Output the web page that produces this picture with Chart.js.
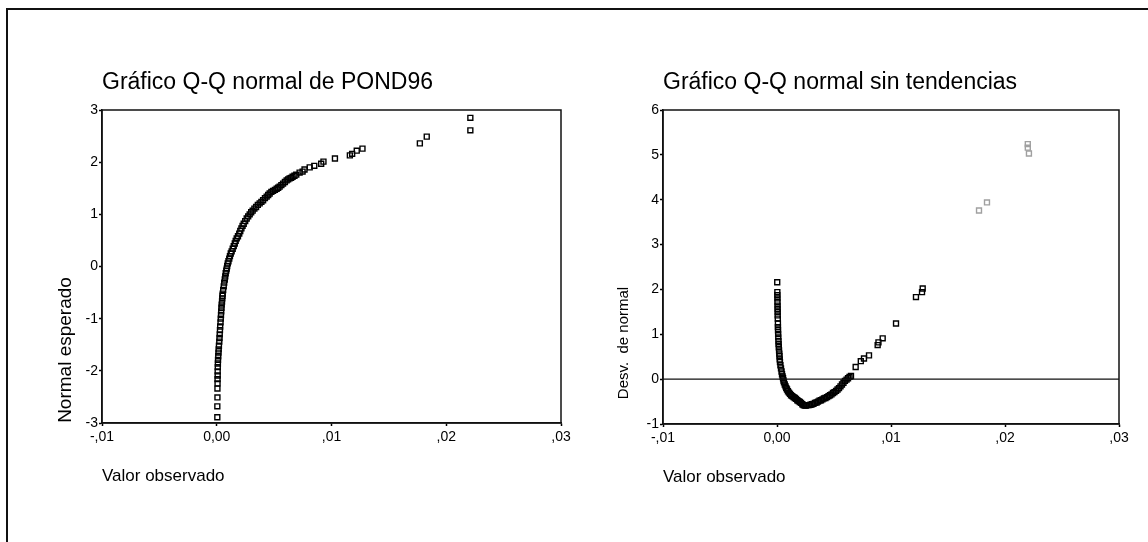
<!DOCTYPE html>
<html>
<head>
<meta charset="utf-8">
<script src="https://cdn.jsdelivr.net/npm/chart.js@4.4.1/dist/chart.umd.min.js"></script>
<style>
	body { margin: 0; background: #fff; width: 1148px; height: 542px; overflow: hidden; position: relative }
	#frame { position: absolute; left: 6px; top: 8px; right: 0; bottom: 0; border-top: 2px solid #111; border-left: 2px solid #111 }
	#left { position: absolute; left: 0; top: 0 }
	#right { position: absolute; left: 580px; top: 0 }
</style>
</head>
<body>
<div id="frame"></div>
<canvas id="left" width="580" height="542"></canvas>
<canvas id="right" width="568" height="542"></canvas>
<script>
const leftX = [
	0.00005, 0.00005, 0.00006, 0.00006, 0.00007, 0.00007, 0.00008, 0.00008, 0.00009,
	0.0001, 0.00011, 0.00013, 0.00015, 0.00017, 0.00019, 0.00022, 0.00024, 0.00026, 0.00028,
	0.0003, 0.00033, 0.00035, 0.00037, 0.00039, 0.00041, 0.00043, 0.00046, 0.00048, 0.0005,
	0.00052, 0.00056, 0.00061, 0.00065, 0.0007, 0.00074, 0.00078, 0.00083, 0.00087, 0.00091,
	0.00096, 0.00102, 0.00109, 0.00115, 0.00122, 0.0013, 0.00139, 0.00148, 0.00157, 0.00165,
	0.00174, 0.00185, 0.00196, 0.00205, 0.00215, 0.00225, 0.00235, 0.00248, 0.00261, 0.00274,
	0.00287, 0.003, 0.00313, 0.00328, 0.00343, 0.00358, 0.00374, 0.00389, 0.00404, 0.0042,
	0.00435, 0.00448, 0.00461, 0.00476, 0.00491, 0.00507, 0.00522, 0.00535, 0.00548, 0.00563,
	0.00578, 0.00594, 0.00609, 0.00622, 0.00635, 0.00648, 0.00661, 0.00677, 0.00693, 0.00722,
	0.00748, 0.00765, 0.0081, 0.0085, 0.0091, 0.0093, 0.0103, 0.0116, 0.0118, 0.0122, 0.0127,
	0.0177, 0.0183, 0.0221, 0.0221
]
const leftY = [
	-2.89, -2.68, -2.51, -2.34, -2.24, -2.16, -2.09, -2.01, -1.93,
	-1.86, -1.79, -1.72, -1.65, -1.59, -1.52, -1.44, -1.37, -1.30, -1.22,
	-1.15, -1.07, -1.0, -0.93, -0.86, -0.79, -0.73, -0.67, -0.61, -0.56,
	-0.52, -0.45, -0.38, -0.31, -0.25, -0.19, -0.13, -0.08, -0.04, 0.01,
	0.06, 0.1, 0.15, 0.2, 0.25, 0.29, 0.34, 0.39, 0.44, 0.49,
	0.54, 0.58, 0.63, 0.68, 0.73, 0.78, 0.82, 0.87, 0.92, 0.96,
	1.0, 1.04, 1.07, 1.11, 1.14, 1.18, 1.21, 1.24, 1.27, 1.31,
	1.34, 1.37, 1.40, 1.43, 1.45, 1.47, 1.49, 1.51, 1.53, 1.56,
	1.59, 1.62, 1.65, 1.67, 1.69, 1.7, 1.72, 1.74, 1.76, 1.80,
	1.82, 1.86, 1.9, 1.93, 1.97, 2.01, 2.07, 2.13, 2.16, 2.22, 2.26,
	2.36, 2.49, 2.61, 2.85
]

const rightX = [
	0.00002, 0.00003, 0.00003, 0.00004, 0.00004, 0.00005, 0.00005, 0.00006, 0.00006, 0.00007, 0.00008, 0.00008,
	0.00009, 0.0001, 0.00011, 0.00013, 0.00014, 0.00016, 0.00018, 0.0002, 0.00022, 0.00024,
	0.00026, 0.0003, 0.00035, 0.0004, 0.00044, 0.00049, 0.00053, 0.00057, 0.00061, 0.00068,
	0.00075, 0.00081, 0.00088, 0.00096, 0.00105, 0.00114, 0.00123, 0.00134, 0.00145, 0.00156,
	0.00167, 0.00178, 0.00189, 0.002, 0.00211, 0.00222, 0.00232, 0.00243, 0.00254, 0.00268,
	0.00281, 0.00294, 0.00307, 0.0032, 0.00333, 0.00347, 0.0036, 0.00373, 0.00386, 0.00399,
	0.00412, 0.00425, 0.00439, 0.00452, 0.00465, 0.00478, 0.00491, 0.00504, 0.00518, 0.00531,
	0.00544, 0.00557, 0.0057, 0.00583, 0.00596, 0.0061, 0.00623, 0.00636, 0.00649,
	0.0069, 0.00735, 0.00763, 0.00807, 0.00883, 0.0089, 0.00927, 0.01044, 0.01219, 0.01272, 0.01278,
	0.01772, 0.01842, 0.022, 0.022, 0.0221
]
const rightY = [
	2.16, 1.94, 1.87, 1.80, 1.72, 1.64, 1.57, 1.50, 1.42, 1.35, 1.24, 1.16,
	1.09, 1.01, 0.93, 0.85, 0.78, 0.71, 0.64, 0.57, 0.51, 0.44,
	0.38, 0.31, 0.24, 0.17, 0.11, 0.06, 0.02, -0.03, -0.07, -0.12,
	-0.16, -0.2, -0.23, -0.27, -0.3, -0.33, -0.36, -0.38, -0.40, -0.42,
	-0.44, -0.47, -0.49, -0.51, -0.53, -0.56, -0.58, -0.59, -0.59, -0.58,
	-0.58, -0.57, -0.56, -0.55, -0.53, -0.52, -0.5, -0.48, -0.47, -0.45,
	-0.43, -0.42, -0.4, -0.38, -0.36, -0.34, -0.31, -0.29, -0.26, -0.23,
	-0.2, -0.16, -0.12, -0.08, -0.04, -0.01, 0.02, 0.05, 0.07,
	0.27, 0.4, 0.46, 0.53, 0.76, 0.82, 0.91, 1.24, 1.83, 1.94, 2.02,
	3.76, 3.94, 5.24, 5.16, 5.03
]

const refX = [-0.01, 0.03]
const refY = [0, 0]
const xTickLabels = ['-,01', '0,00', ',01', ',02', ',03']

const FONT = '"Liberation Sans", Arial, Helvetica, sans-serif'
Chart.defaults.font.family = FONT
Chart.defaults.color = '#000'

const points = (xs, ys) => xs.map((x, i) => ({ x: x, y: ys[i] }))

// marco del área de trazado
const plotFrame = {
	id: 'plotFrame',
	beforeDatasetsDraw(chart) {
		const a = chart.chartArea, ctx = chart.ctx
		ctx.save()
		ctx.strokeStyle = '#111'
		ctx.lineWidth = 1.5
		ctx.strokeRect(a.left, a.top, a.right - a.left, a.bottom - a.top)
		ctx.restore()
	}
}

// título vertical del eje y
const sideTitle = {
	id: 'sideTitle',
	afterDraw(chart, args, opts) {
		const ctx = chart.ctx
		ctx.save()
		ctx.translate(opts.x, opts.y)
		ctx.rotate(-Math.PI / 2)
		ctx.font = opts.size + 'px ' + FONT
		ctx.fillStyle = '#000'
		ctx.textAlign = 'center'
		ctx.textBaseline = 'middle'
		ctx.fillText(opts.text, 0, 0)
		ctx.restore()
	}
}

function xAxis() {
	return {
		type: 'linear', min: -0.01, max: 0.03,
		ticks: { stepSize: 0.01, autoSkip: false, maxRotation: 0, padding: 3, font: { size: 14 },
			callback: (v, i) => xTickLabels[i] },
		grid: { drawOnChartArea: false, tickLength: 3, color: '#000', tickWidth: 1.5 },
		border: { color: '#111', width: 1.5 },
		title: { display: true, text: 'Valor observado', align: 'start', font: { size: 17 }, padding: { top: 0, bottom: 11 } },
		afterFit(s) { s.height = 75 }
	}
}

function yAxis(min, max) {
	return {
		type: 'linear', min: min, max: max,
		ticks: { stepSize: 1, padding: 1, font: { size: 14 }, callback: v => String(v) },
		grid: { drawOnChartArea: false, tickLength: 3, color: '#000', tickWidth: 1.5 },
		border: { color: '#111', width: 1.5 },
		afterFit(s) { s.width = 40 }
	}
}

function options(title, ytitle, pad, min, max) {
	return {
		responsive: false,
		animation: false,
		devicePixelRatio: 1,
		layout: { padding: pad },
		plugins: {
			legend: { display: false },
			tooltip: { enabled: false },
			title: { display: true, text: title, align: 'start', fullSize: false, color: '#000',
				font: { size: 23, weight: 'normal' }, padding: { top: 9.2, bottom: 13.2 } },
			sideTitle: ytitle
		},
		scales: { x: xAxis(), y: yAxis(min, max) }
	}
}

const pointStyle = {
	pointStyle: 'rect',
	pointRadius: 3.5,
	pointBorderWidth: 1.4,
	pointBackgroundColor: 'rgba(0,0,0,0)',
	showLine: false
}

new Chart('left', {
	type: 'scatter',
	data: {
		datasets: [Object.assign({ data: points(leftX, leftY), pointBorderColor: '#000' }, pointStyle)]
	},
	options: options('Gráfico Q-Q normal de POND96',
		{ text: 'Normal esperado', x: 66, y: 350, size: 19 },
		{ top: 60, left: 62, right: 19, bottom: 44 }, -3, 3),
	plugins: [plotFrame, sideTitle]
})

new Chart('right', {
	type: 'scatter',
	data: {
		datasets: [
			{ data: points(refX, refY), showLine: true, borderColor: '#111', borderWidth: 1.3, pointRadius: 0 },
			Object.assign({ data: points(rightX, rightY),
				pointBorderColor: c => c.raw && c.raw.x > 0.015 ? '#a0a0a0' : '#000' }, pointStyle)
		]
	},
	options: options('Gráfico Q-Q normal sin tendencias',
		{ text: 'Desv.  de normal', x: 44, y: 343, size: 15 },
		{ top: 60, left: 43, right: 29, bottom: 43 }, -1, 6),
	plugins: [plotFrame, sideTitle]
})
</script>
</body>
</html>
